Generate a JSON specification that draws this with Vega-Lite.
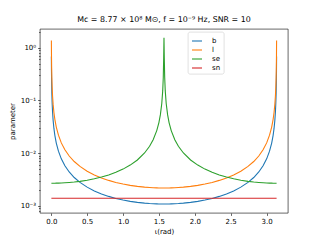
{
  "$schema": "https://vega.github.io/schema/vega-lite/v6.json",
  "width": 248,
  "height": 184,
  "autosize": {"type": "none"},
  "padding": {"left": 40, "top": 29, "right": 32, "bottom": 27},
  "background": "white",
  "title": {"text": "Mᴄ = 8.77 × 10⁸ M⊙, f = 10⁻⁹ Hz, SNR = 10", "font": "DejaVu Sans", "fontSize": 7.9, "fontWeight": "normal", "color": "black", "anchor": "middle", "offset": 5},
  "config": {
    "view": {"stroke": "black", "strokeWidth": 0.6},
    "axis": {"domain": false, "grid": false, "labelFont": "DejaVu Sans", "labelFontSize": 7, "labelColor": "black", "titleFont": "DejaVu Sans", "titleFontSize": 7, "titleFontWeight": "normal", "titleColor": "black", "tickColor": "black", "tickWidth": 0.6, "tickSize": 2.4, "labelPadding": 2}
  },
  "data": {"values": [
    {"x": 0.0016, "b": 0.681, "l": 1.369, "se": 0.0027, "sn": 0.0014},
    {"x": 0.003, "b": 0.3633, "l": 0.73, "se": 0.0027, "sn": 0.0014},
    {"x": 0.005, "b": 0.218, "l": 0.438, "se": 0.0027, "sn": 0.0014},
    {"x": 0.008, "b": 0.1363, "l": 0.2738, "se": 0.0027, "sn": 0.0014},
    {"x": 0.012, "b": 0.09083, "l": 0.1825, "se": 0.0027, "sn": 0.0014},
    {"x": 0.018, "b": 0.06056, "l": 0.1217, "se": 0.0027, "sn": 0.0014},
    {"x": 0.026, "b": 0.04193, "l": 0.08424, "se": 0.002701, "sn": 0.0014},
    {"x": 0.037, "b": 0.02947, "l": 0.0592, "se": 0.002702, "sn": 0.0014},
    {"x": 0.05, "b": 0.02181, "l": 0.04382, "se": 0.002703, "sn": 0.0014},
    {"x": 0.07, "b": 0.01558, "l": 0.03131, "se": 0.002707, "sn": 0.0014},
    {"x": 0.1, "b": 0.01092, "l": 0.02194, "se": 0.002714, "sn": 0.0014},
    {"x": 0.14, "b": 0.007811, "l": 0.01569, "se": 0.002727, "sn": 0.0014},
    {"x": 0.19, "b": 0.005771, "l": 0.0116, "se": 0.00275, "sn": 0.0014},
    {"x": 0.25, "b": 0.004406, "l": 0.008852, "se": 0.002787, "sn": 0.0014},
    {"x": 0.32, "b": 0.003465, "l": 0.006962, "se": 0.002844, "sn": 0.0014},
    {"x": 0.4, "b": 0.002799, "l": 0.005624, "se": 0.002931, "sn": 0.0014},
    {"x": 0.5, "b": 0.002274, "l": 0.004568, "se": 0.003077, "sn": 0.0014},
    {"x": 0.6, "b": 0.00193, "l": 0.003879, "se": 0.003271, "sn": 0.0014},
    {"x": 0.7, "b": 0.001692, "l": 0.003399, "se": 0.00353, "sn": 0.0014},
    {"x": 0.8, "b": 0.001519, "l": 0.003053, "se": 0.003875, "sn": 0.0014},
    {"x": 0.9, "b": 0.001391, "l": 0.002796, "se": 0.004344, "sn": 0.0014},
    {"x": 1.0, "b": 0.001295, "l": 0.002603, "se": 0.004997, "sn": 0.0014},
    {"x": 1.1, "b": 0.001223, "l": 0.002457, "se": 0.005952, "sn": 0.0014},
    {"x": 1.2, "b": 0.001169, "l": 0.00235, "se": 0.007451, "sn": 0.0014},
    {"x": 1.3, "b": 0.001131, "l": 0.002273, "se": 0.01009, "sn": 0.0014},
    {"x": 1.37, "b": 0.001112, "l": 0.002235, "se": 0.01354, "sn": 0.0014},
    {"x": 1.42, "b": 0.001103, "l": 0.002215, "se": 0.01801, "sn": 0.0014},
    {"x": 1.47, "b": 0.001096, "l": 0.002201, "se": 0.02683, "sn": 0.0014},
    {"x": 1.5, "b": 0.001093, "l": 0.002196, "se": 0.03817, "sn": 0.0014},
    {"x": 1.52, "b": 0.001091, "l": 0.002193, "se": 0.05317, "sn": 0.0014},
    {"x": 1.54, "b": 0.00109, "l": 0.002191, "se": 0.08766, "sn": 0.0014},
    {"x": 1.553, "b": 0.00109, "l": 0.00219, "se": 0.1517, "sn": 0.0014},
    {"x": 1.561, "b": 0.00109, "l": 0.00219, "se": 0.2755, "sn": 0.0014},
    {"x": 1.5665, "b": 0.00109, "l": 0.00219, "se": 0.6279, "sn": 0.0014},
    {"x": 1.5708, "b": 0.00109, "l": 0.00219, "se": 1.55, "sn": 0.0014},
    {"x": 1.5751, "b": 0.00109, "l": 0.00219, "se": 0.6279, "sn": 0.0014},
    {"x": 1.5806, "b": 0.00109, "l": 0.00219, "se": 0.2755, "sn": 0.0014},
    {"x": 1.5886, "b": 0.00109, "l": 0.00219, "se": 0.1517, "sn": 0.0014},
    {"x": 1.6016, "b": 0.00109, "l": 0.002191, "se": 0.08766, "sn": 0.0014},
    {"x": 1.6216, "b": 0.001091, "l": 0.002193, "se": 0.05317, "sn": 0.0014},
    {"x": 1.6416, "b": 0.001093, "l": 0.002196, "se": 0.03817, "sn": 0.0014},
    {"x": 1.6716, "b": 0.001096, "l": 0.002201, "se": 0.02683, "sn": 0.0014},
    {"x": 1.7216, "b": 0.001103, "l": 0.002215, "se": 0.01801, "sn": 0.0014},
    {"x": 1.7716, "b": 0.001112, "l": 0.002235, "se": 0.01354, "sn": 0.0014},
    {"x": 1.8416, "b": 0.001131, "l": 0.002273, "se": 0.01009, "sn": 0.0014},
    {"x": 1.9416, "b": 0.001169, "l": 0.00235, "se": 0.007451, "sn": 0.0014},
    {"x": 2.0416, "b": 0.001223, "l": 0.002457, "se": 0.005952, "sn": 0.0014},
    {"x": 2.1416, "b": 0.001295, "l": 0.002603, "se": 0.004997, "sn": 0.0014},
    {"x": 2.2416, "b": 0.001391, "l": 0.002796, "se": 0.004344, "sn": 0.0014},
    {"x": 2.3416, "b": 0.001519, "l": 0.003053, "se": 0.003875, "sn": 0.0014},
    {"x": 2.4416, "b": 0.001692, "l": 0.003399, "se": 0.00353, "sn": 0.0014},
    {"x": 2.5416, "b": 0.00193, "l": 0.003879, "se": 0.003271, "sn": 0.0014},
    {"x": 2.6416, "b": 0.002274, "l": 0.004568, "se": 0.003077, "sn": 0.0014},
    {"x": 2.7416, "b": 0.002799, "l": 0.005624, "se": 0.002931, "sn": 0.0014},
    {"x": 2.8216, "b": 0.003465, "l": 0.006962, "se": 0.002844, "sn": 0.0014},
    {"x": 2.8916, "b": 0.004406, "l": 0.008852, "se": 0.002787, "sn": 0.0014},
    {"x": 2.9516, "b": 0.005771, "l": 0.0116, "se": 0.00275, "sn": 0.0014},
    {"x": 3.0016, "b": 0.007811, "l": 0.01569, "se": 0.002727, "sn": 0.0014},
    {"x": 3.0416, "b": 0.01092, "l": 0.02194, "se": 0.002714, "sn": 0.0014},
    {"x": 3.0716, "b": 0.01558, "l": 0.03131, "se": 0.002707, "sn": 0.0014},
    {"x": 3.0916, "b": 0.02181, "l": 0.04382, "se": 0.002703, "sn": 0.0014},
    {"x": 3.1046, "b": 0.02947, "l": 0.0592, "se": 0.002702, "sn": 0.0014},
    {"x": 3.1156, "b": 0.04193, "l": 0.08424, "se": 0.002701, "sn": 0.0014},
    {"x": 3.1236, "b": 0.06056, "l": 0.1217, "se": 0.0027, "sn": 0.0014},
    {"x": 3.1296, "b": 0.09083, "l": 0.1825, "se": 0.0027, "sn": 0.0014},
    {"x": 3.1336, "b": 0.1363, "l": 0.2738, "se": 0.0027, "sn": 0.0014},
    {"x": 3.1366, "b": 0.218, "l": 0.438, "se": 0.0027, "sn": 0.0014},
    {"x": 3.1386, "b": 0.3633, "l": 0.73, "se": 0.0027, "sn": 0.0014},
    {"x": 3.14, "b": 0.681, "l": 1.369, "se": 0.0027, "sn": 0.0014}
  ]},
  "transform": [{"fold": ["b", "l", "se", "sn"], "as": ["series", "value"]}],
  "mark": {"type": "line", "strokeWidth": 1.1, "clip": true},
  "encoding": {
    "x": {"field": "x", "type": "quantitative",
      "scale": {"domain": [-0.157, 3.299], "nice": false, "zero": false},
      "axis": {"values": [0, 0.5, 1, 1.5, 2, 2.5, 3], "format": ".1f", "title": "ι(rad)", "titlePadding": 3}},
    "y": {"field": "value", "type": "quantitative",
      "scale": {"type": "log", "domain": [0.000736, 2.26], "nice": false},
      "axis": {"title": "parameter", "titlePadding": 5,
        "values": [0.0008, 0.0009, 0.001, 0.002, 0.003, 0.004, 0.005, 0.006, 0.007, 0.008, 0.009, 0.01, 0.02, 0.03, 0.04, 0.05, 0.06, 0.07, 0.08, 0.09, 0.1, 0.2, 0.3, 0.4, 0.5, 0.6, 0.7, 0.8, 0.9, 1, 2],
        "labelExpr": "datum.value === 1 ? '10⁰' : datum.value === 0.1 ? '10⁻¹' : datum.value === 0.01 ? '10⁻²' : datum.value === 0.001 ? '10⁻³' : ''",
        "tickSize": {"condition": {"test": "indexof([0.001, 0.01, 0.1, 1], datum.value) >= 0", "value": 2.4}, "value": 1.4}}},
    "color": {"field": "series", "type": "nominal",
      "scale": {"domain": ["b", "l", "se", "sn"], "range": ["#1f77b4", "#ff7f0e", "#2ca02c", "#d62728"]},
      "legend": {"title": null, "orient": "none", "legendX": 148, "legendY": 3, "symbolType": "stroke", "symbolSize": 100, "symbolStrokeWidth": 1.1, "labelFont": "DejaVu Sans", "labelFontSize": 7, "labelColor": "black", "labelOffset": 9, "rowPadding": 0, "padding": 3, "fillColor": "white", "strokeColor": "#cccccc", "cornerRadius": 2,
        "encode": {"legend": {"update": {"strokeWidth": {"value": 0.6}}}}}}
  }
}
